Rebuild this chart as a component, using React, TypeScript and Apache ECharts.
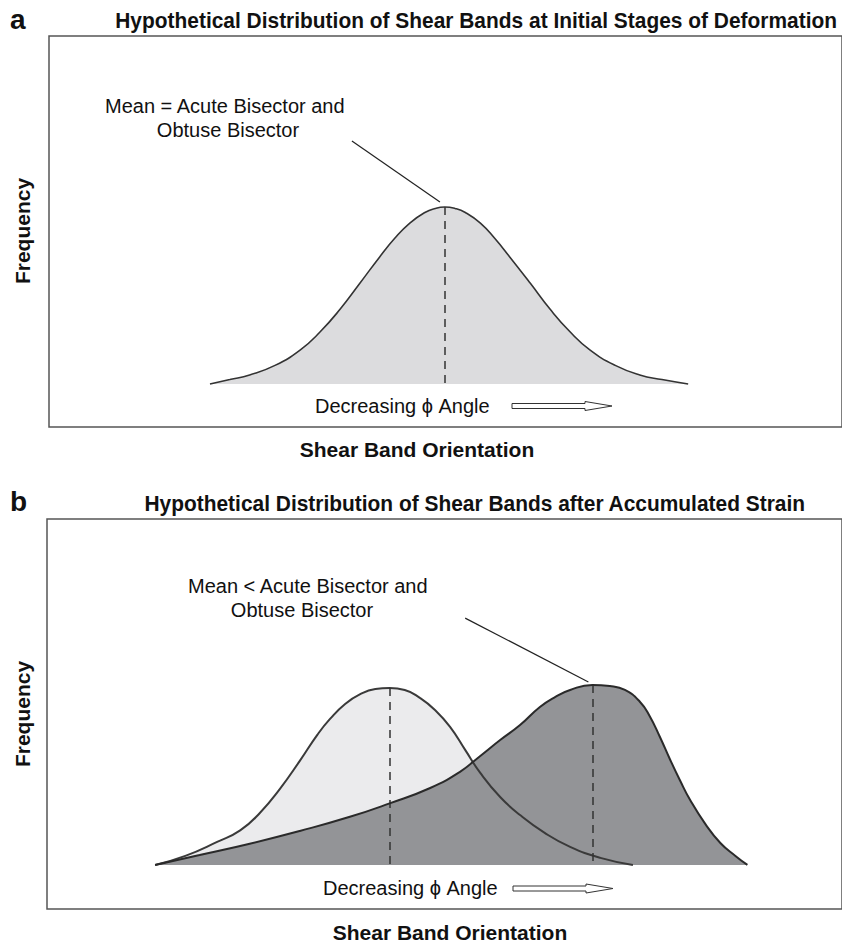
import React, { useEffect, useRef } from "react";
import * as echarts from "echarts";

// Panel a: single initial distribution (x = orientation units, f = relative frequency)
const A_X = [20.3, 22.8, 25.3, 28.5, 31.7, 34.2, 36.7, 39.2, 41.7, 43.6, 45.5, 47.4, 48.7, 49.9, 51.2, 52.5, 54.4, 56.2, 58.1, 60.7, 63.2, 65.7, 68.2, 71.4, 74.5, 77.3, 80.6];
const A_F = [0, 2.5, 5.1, 10.5, 19.3, 29.5, 42.2, 56.9, 71.8, 82.3, 90.9, 96.9, 99.2, 100, 99.2, 96.9, 90.9, 82.3, 71.8, 56.9, 42.2, 29.5, 19.3, 10.5, 5.1, 2.5, 0];
const A_MEAN = 49.9;

// Panel b: initial (light) and after accumulated strain (dark)
const B_LIGHT_X = [13.6, 17.4, 21.4, 24.3, 26.8, 29.3, 31.8, 34.0, 35.6, 37.5, 39.4, 41.3, 43.1, 45.0, 46.9, 48.8, 50.7, 52.6, 54.5, 57.0, 59.5, 62.6, 65.8, 69.6, 73.7];
const B_LIGHT_F = [0, 5.1, 13.0, 19.5, 29.5, 43.0, 58.8, 73.5, 82.5, 91.0, 96.5, 99.4, 100, 98.9, 94.4, 87.6, 78.0, 65.0, 52.0, 38.4, 28.2, 18.1, 10.2, 4.0, 0];
const B_DARK_X = [13.6, 19.2, 25.5, 31.8, 38.1, 43.1, 48.2, 51.9, 54.5, 57.0, 59.5, 62.0, 63.9, 65.8, 68.6, 70.8, 72.7, 74.6, 75.8, 77.1, 78.4, 79.6, 80.9, 82.8, 84.7, 86.6, 88.1];
const B_DARK_F = [0, 5.6, 12.0, 19.2, 27.2, 34.8, 43.5, 52.5, 61.6, 70.6, 79.1, 89.3, 94.9, 98.9, 101.7, 101.1, 98.9, 92.1, 84.2, 72.3, 59.3, 48.0, 36.7, 23.2, 12.4, 5.1, 0];
const B_LIGHT_MEAN = 43.1;
const B_DARK_MEAN = 68.6;

const TITLE_A = "Hypothetical Distribution of Shear Bands at Initial Stages of Deformation";
const TITLE_B = "Hypothetical Distribution of Shear Bands after Accumulated Strain";
const X_LABEL = "Shear Band Orientation";
const Y_LABEL = "Frequency";
const NOTE_A = ["Mean = Acute Bisector and", "Obtuse Bisector"];
const NOTE_B = ["Mean < Acute Bisector and", "Obtuse Bisector"];
const DIR_LABEL = "Decreasing \u03D5 Angle";

const FONT = "'Liberation Sans', Arial, sans-serif";

function pts(xs: number[], fs: number[]) {
  return xs.map((x, i) => [x, fs[i]]);
}

export default function App() {
  const ref = useRef<HTMLDivElement>(null);
  useEffect(() => {
    document.body.style.margin = "0";
    if (!ref.current) return;
    const chart = echarts.init(ref.current, null, { renderer: "svg" });

    const axisX = (gridIndex: number) => ({
      type: "value", gridIndex, min: 0, max: 100,
      axisLine: { show: false }, axisTick: { show: false }, axisLabel: { show: false }, splitLine: { show: false },
    });
    const axisY = (gridIndex: number, min: number, max: number) => ({
      type: "value", gridIndex, min, max,
      axisLine: { show: false }, axisTick: { show: false }, axisLabel: { show: false }, splitLine: { show: false },
    });

    const dash = { type: [8, 6], color: "#333", width: 1.5 };
    const leader = { type: "solid", color: "#222", width: 1.2 };
    const SMOOTH = 0.5;

    const areaSeries = (xi: number, data: number[][], fill: string, z: number) => ({
      type: "line", xAxisIndex: xi, yAxisIndex: xi, data, smooth: SMOOTH,
      symbol: "none", lineStyle: { width: 0 }, areaStyle: { color: fill, opacity: 1 }, z,
    });
    const lineSeries = (xi: number, data: number[][], color: string, width: number, z: number, markLines: any[]) => ({
      type: "line", xAxisIndex: xi, yAxisIndex: xi, data, smooth: SMOOTH,
      symbol: "none", lineStyle: { color, width }, z,
      markLine: markLines.length
        ? { symbol: "none", silent: true, label: { show: false }, data: markLines }
        : undefined,
    });

    const txt = (text: string, x: number, y: number, size: number, bold: boolean, align = "left", extra: any = {}) => ({
      type: "text", x, y,
      style: { text, fontSize: size, fontWeight: bold ? "bold" : "normal", fontFamily: FONT, fill: "#111", align, verticalAlign: "middle" },
      ...extra,
    });

    const arrow = (x0: number, yc: number) => ({
      type: "polygon",
      shape: {
        points: [
          [x0, yc - 2.5], [x0 + 73, yc - 2.5], [x0 + 73, yc - 4.5], [x0 + 100, yc],
          [x0 + 73, yc + 4.5], [x0 + 73, yc + 2.5], [x0, yc + 2.5],
        ],
      },
      style: { fill: "#fff", stroke: "#333", lineWidth: 1 },
    });

    chart.setOption({
      animation: false,
      grid: [
        { left: 49, top: 36, width: 800, height: 391, show: true, borderColor: "#555", borderWidth: 1.5, backgroundColor: "transparent" },
        { left: 47, top: 519, width: 802, height: 390, show: true, borderColor: "#555", borderWidth: 1.5, backgroundColor: "transparent" },
      ],
      xAxis: [axisX(0), axisX(1)],
      yAxis: [axisY(0, -24.3, 196.6), axisY(1, -24.9, 195.5)],
      series: [
        areaSeries(0, pts(A_X, A_F), "#dcdcde", 2),
        lineSeries(0, pts(A_X, A_F), "#333", 1.6, 4, [
          [{ coord: [A_MEAN, 100], lineStyle: dash }, { coord: [A_MEAN, -1] }],
          [{ coord: [38.2, 137.3], lineStyle: leader }, { coord: [49.3, 102.8] }],
        ]),
        areaSeries(1, pts(B_LIGHT_X, B_LIGHT_F), "#ebebed", 2),
        areaSeries(1, pts(B_DARK_X, B_DARK_F), "#939497", 3),
        lineSeries(1, pts(B_LIGHT_X, B_LIGHT_F), "#3a3a3a", 2, 4, [
          [{ coord: [B_LIGHT_MEAN, 100], lineStyle: dash }, { coord: [B_LIGHT_MEAN, -1.5] }],
        ]),
        lineSeries(1, pts(B_DARK_X, B_DARK_F), "#2a2a2a", 2, 5, [
          [{ coord: [B_DARK_MEAN, 101.7], lineStyle: dash }, { coord: [B_DARK_MEAN, 0] }],
          [{ coord: [52.6, 139.5], lineStyle: leader }, { coord: [68.1, 103.4] }],
        ]),
      ],
      graphic: [
        txt("a", 10, 19, 28, true),
        txt(TITLE_A, 837, 20, 22.5, true, "right", { scaleX: 0.93 }),
        txt(Y_LABEL, 22, 231, 21, true, "center", { rotation: Math.PI / 2 }),
        txt(NOTE_A[0], 105, 106, 20, false),
        txt(NOTE_A[1], 228, 130, 20, false, "center"),
        txt(DIR_LABEL, 315, 406, 20, false),
        arrow(512, 406),
        txt(X_LABEL, 417, 449, 21, true, "center"),

        txt("b", 10, 501, 28, true),
        txt(TITLE_B, 805, 503, 22.5, true, "right", { scaleX: 0.93 }),
        txt(Y_LABEL, 22, 714, 21, true, "center", { rotation: Math.PI / 2 }),
        txt(NOTE_B[0], 188, 586, 20, false),
        txt(NOTE_B[1], 302, 610, 20, false, "center"),
        txt(DIR_LABEL, 323, 888, 20, false),
        arrow(513, 888.5),
        txt(X_LABEL, 450, 932, 21, true, "center"),
      ],
    });
    return () => chart.dispose();
  }, []);
  return <div ref={ref} style={{ width: 842, height: 943 }} />;
}
